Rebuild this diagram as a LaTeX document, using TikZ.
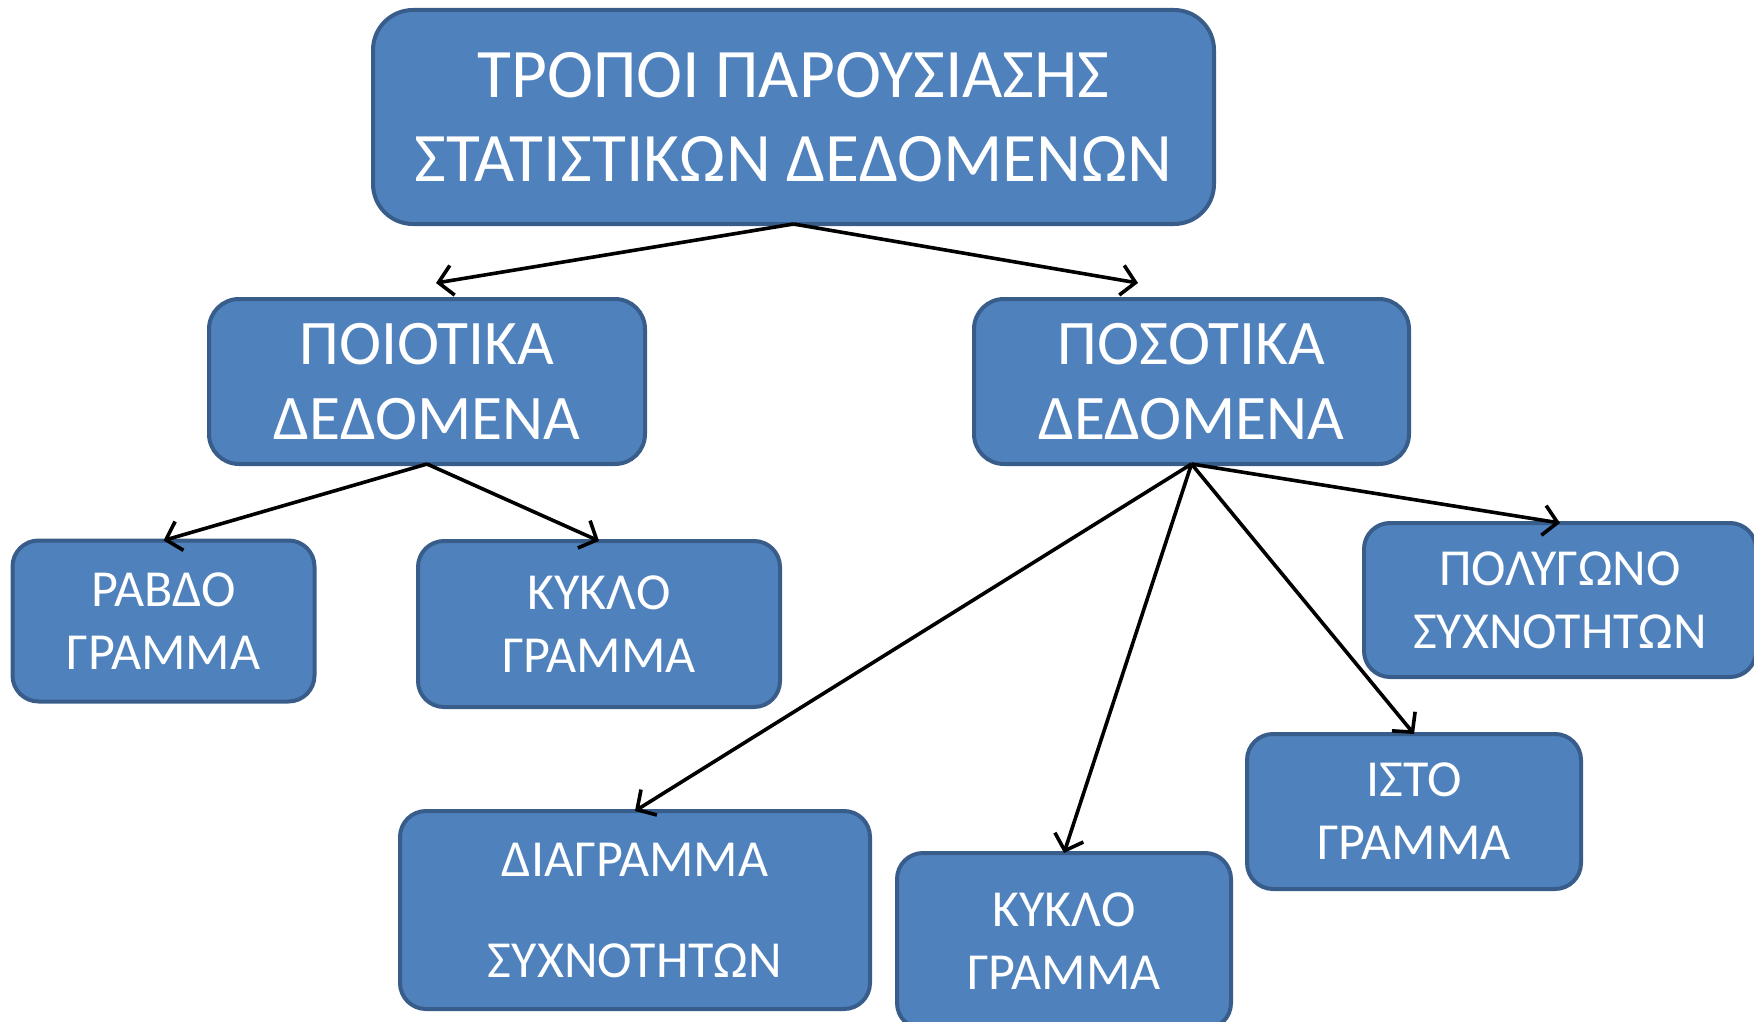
\documentclass[tikz,border=0pt]{standalone}
\usepackage{fontspec}
\setmainfont{Carlito}
\usetikzlibrary{arrows.meta}
\definecolor{boxfill}{HTML}{4F81BD}
\definecolor{boxline}{HTML}{385D8A}
\begin{document}
\begin{tikzpicture}[x=1pt,y=-1pt,
 box/.style={draw=boxline, fill=boxfill, line width=4pt, text=white, align=center, inner sep=0pt, outer sep=0pt},
 big/.style={font=\fontsize{69.5}{84}\selectfont, rounded corners=40pt},
 mid/.style={font=\fontsize{63.5}{75}\selectfont, rounded corners=30pt},
 small/.style={font=\fontsize{52}{63}\selectfont, rounded corners=26pt},
 link/.style={line width=3.6pt, -{Straight Barb[length=14pt,width=30pt,line width=3.6pt]}}]
\useasboundingbox (0,0) rectangle (1754,1022);
\clip (0,0) rectangle (1754,1022);
\node[box,big,minimum width=841pt,minimum height=214pt] (top) at (793.5,117) {ΤΡΟΠΟΙ ΠΑΡΟΥΣΙΑΣΗΣ\\ΣΤΑΤΙΣΤΙΚΩΝ ΔΕΔΟΜΕΝΩΝ};
\node[box,mid,minimum width=436pt,minimum height=165pt] (qual) at (427,381.5) {ΠΟΙΟΤΙΚΑ\\ΔΕΔΟΜΕΝΑ};
\node[box,mid,minimum width=435pt,minimum height=165pt] (quant) at (1191.5,381.5) {ΠΟΣΟΤΙΚΑ\\ΔΕΔΟΜΕΝΑ};
\node[box,small,minimum width=302pt,minimum height=161pt] (rabdo) at (163.5,621) {ΡΑΒΔΟ\\ΓΡΑΜΜΑ};
\node[box,small,minimum width=362pt,minimum height=166pt] (kyklo1) at (599,624) {ΚΥΚΛΟ\\ΓΡΑΜΜΑ};
\node[box,small,minimum width=392pt,minimum height=154pt] (poly) at (1560,600) {ΠΟΛΥΓΩΝΟ\\ΣΥΧΝΟΤΗΤΩΝ};
\node[box,small,minimum width=334pt,minimum height=155pt] (isto) at (1414,811.5) {ΙΣΤΟ\\ΓΡΑΜΜΑ};
\node[box,small,minimum width=334pt,minimum height=176pt] (kyklo2) at (1064,941) {ΚΥΚΛΟ\\ΓΡΑΜΜΑ};
\node[box,small,minimum width=470pt,minimum height=198pt] (diag) at (635,910) {ΔΙΑΓΡΑΜΜΑ\\[38pt]ΣΥΧΝΟΤΗΤΩΝ};
\coordinate (e1) at (436,283);
\coordinate (e2) at (1138,283);
\draw[link] (top.south) -- (e1);
\draw[link] (top.south) -- (e2);
\draw[link] (qual.south) -- (rabdo.north);
\draw[link] (qual.south) -- (kyklo1.north);
\draw[link] (quant.south) -- (diag.north);
\draw[link] (quant.south) -- (kyklo2.north);
\draw[link] (quant.south) -- (isto.north);
\draw[link] (quant.south) -- (poly.north);
\end{tikzpicture}
\end{document}
